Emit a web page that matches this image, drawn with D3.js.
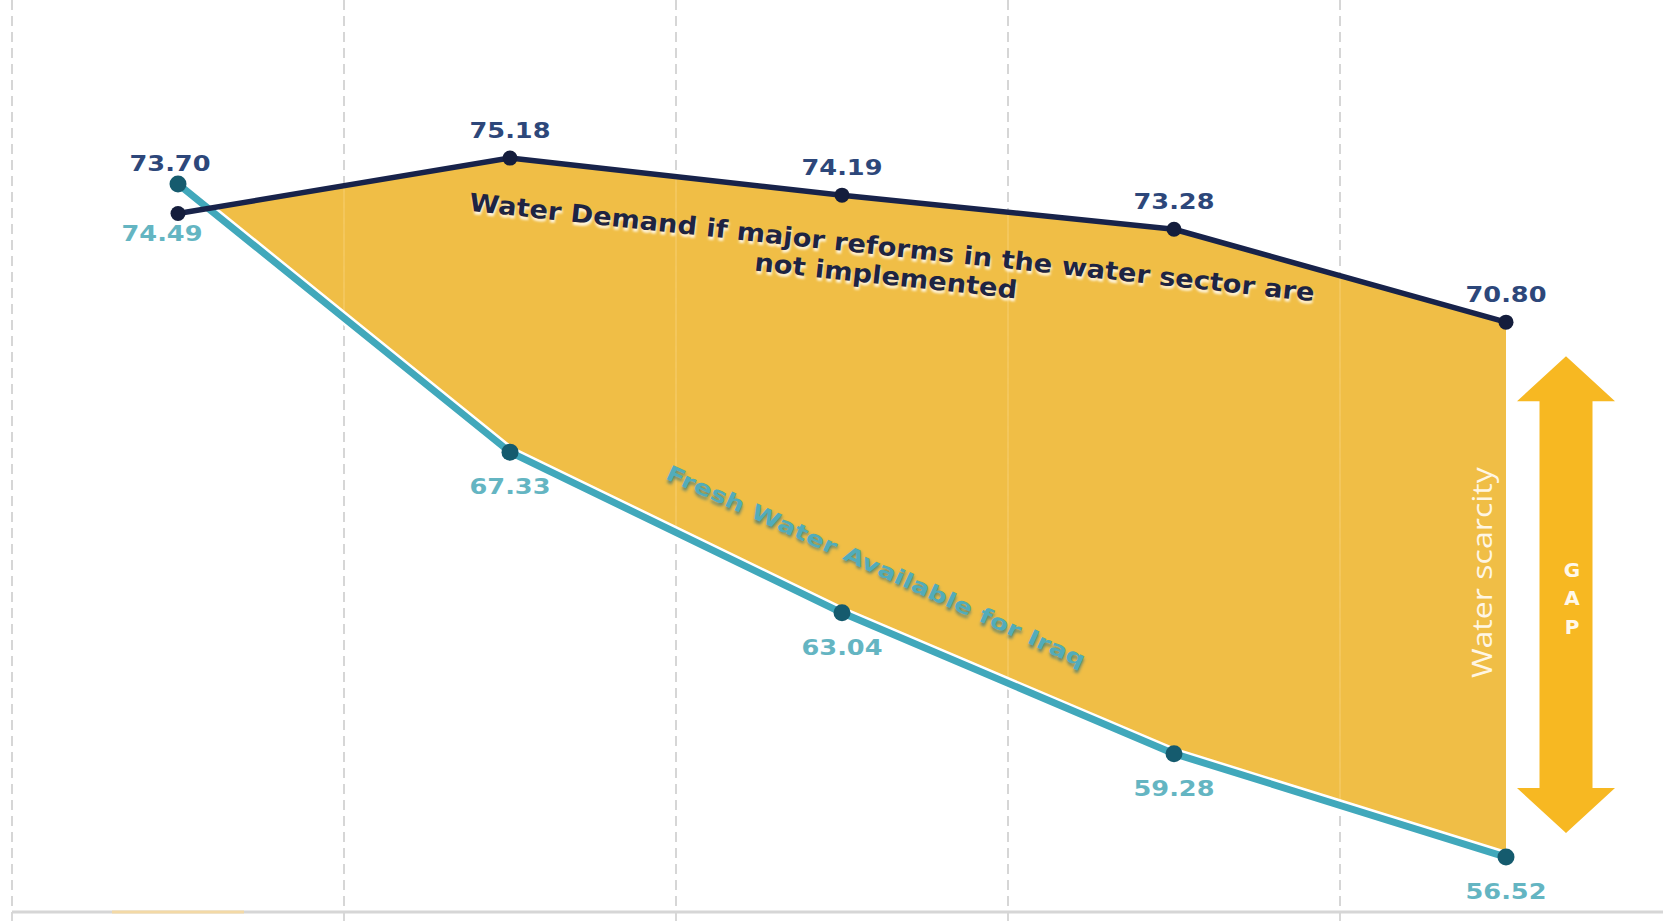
<!DOCTYPE html>
<html>
<head>
<meta charset="utf-8">
<script src="https://cdn.jsdelivr.net/npm/d3@7"></script>
<style>
  html, body { margin: 0; padding: 0; background: #ffffff; }
  svg { display: block; }
</style>
</head>
<body>
<svg id="chart" width="1663" height="921"></svg>
<script>
// ---- data ----
const categories = ["2015", "2020", "2025", "2030", "2035"];
const demand = [73.70, 75.18, 74.19, 73.28, 70.80];   // Water demand (no reforms)
const fresh  = [74.49, 67.33, 63.04, 59.28, 56.52];   // Fresh water available for Iraq
const demandText = ["Water Demand if major reforms in the water sector are", "not implemented"];
const freshText = "Fresh Water Available for Iraq";
const scarcityText = "Water scarcity";
const gapLetters = ["G", "A", "P"];

// ---- layout ----
const W = 1663, H = 921;
const svg = d3.select("#chart");
const x = d3.scaleBand().domain(categories).range([12, 1672]).paddingInner(0).paddingOuter(0);
const y = d3.scaleLinear().domain([55, 79.4]).range([914, 0]);
const cx = i => x(categories[i]) + x.bandwidth() / 2;
const baseY = 912;
const idx = d3.range(categories.length);

const gapArea = d3.area().x(i => cx(i)).y0(i => y(fresh[i])).y1(i => y(demand[i]));
const defs = svg.append("defs");
defs.append("clipPath").attr("id", "belowDemand")
  .append("path")
  .attr("d", d3.area().x(i => cx(i)).y0(H).y1(i => y(demand[i]))(idx));
defs.append("clipPath").attr("id", "gapClip")
  .append("path")
  .attr("d", gapArea(idx));
const blur1 = defs.append("filter").attr("id", "blur1").attr("x", "-10%").attr("y", "-50%").attr("width", "120%").attr("height", "200%");
blur1.append("feGaussianBlur").attr("stdDeviation", 1.2);
const blur2 = defs.append("filter").attr("id", "blur2").attr("x", "-10%").attr("y", "-50%").attr("width", "120%").attr("height", "200%");
blur2.append("feGaussianBlur").attr("stdDeviation", 1.6);

// ---- grid (band boundaries) ----
const grid = svg.append("g");
categories.forEach(c => {
  grid.append("line")
    .attr("x1", x(c)).attr("x2", x(c))
    .attr("y1", 0).attr("y2", baseY)
    .attr("stroke", "#c9c9c9").attr("stroke-width", 1.5)
    .attr("stroke-dasharray", "10,6");
  grid.append("line")
    .attr("x1", x(c)).attr("x2", x(c))
    .attr("y1", baseY).attr("y2", H)
    .attr("stroke", "#cfcfcf").attr("stroke-width", 1.6);
});

// baseline
svg.append("line")
  .attr("x1", x(categories[0])).attr("x2", W)
  .attr("y1", baseY).attr("y2", baseY)
  .attr("stroke", "#d6d6d6").attr("stroke-width", 3);
svg.append("line")
  .attr("x1", x(categories[0]) + 100).attr("x2", x(categories[0]) + 232)
  .attr("y1", baseY).attr("y2", baseY)
  .attr("stroke", "#f3d9a6").attr("stroke-width", 3);

// ---- gap fill ----
const fillOuter = svg.append("g").attr("clip-path", "url(#belowDemand)");
fillOuter.append("path")
  .attr("d", gapArea(idx))
  .attr("fill", "#f0bc40").attr("fill-opacity", 0.97);

// faint grid traces inside the fill
const fillInner = fillOuter.append("g").attr("clip-path", "url(#gapClip)");
categories.forEach((c, k) => {
  if (k === 0) return;
  fillInner.append("line")
    .attr("x1", x(c)).attr("x2", x(c))
    .attr("y1", 0).attr("y2", baseY)
    .attr("stroke", "#f6d27a").attr("stroke-width", 1.5).attr("stroke-opacity", 0.6);
});

// ---- lines ----
const line = vals => d3.line().x(i => cx(i)).y(i => y(vals[i]))(idx);
svg.append("path").attr("d", line(fresh)).attr("fill", "none")
  .attr("stroke", "#ffffff").attr("stroke-width", 12).attr("stroke-linejoin", "round");
svg.append("path").attr("d", line(fresh)).attr("fill", "none")
  .attr("stroke", "#41a8bb").attr("stroke-width", 7).attr("stroke-linejoin", "round");
svg.append("path").attr("d", line(demand)).attr("fill", "none")
  .attr("stroke", "#18234a").attr("stroke-width", 5.5).attr("stroke-linejoin", "round");

// markers
svg.append("g").selectAll("circle").data(idx).join("circle")
  .attr("cx", i => cx(i)).attr("cy", i => y(fresh[i])).attr("r", 8.5)
  .attr("fill", "#155b6e");
svg.append("g").selectAll("circle").data(idx).join("circle")
  .attr("cx", i => cx(i)).attr("cy", i => y(demand[i])).attr("r", 7.5)
  .attr("fill", "#141d3c");

// ---- value labels ----
const labelFont = "'DejaVu Sans', Verdana, sans-serif";
idx.forEach(i => {
  const yd = y(demand[i]), yf = y(fresh[i]);
  const crossed = yf < yd; // fresh above demand
  const dY = crossed ? yf - 13 : yd - 20;
  const fY = crossed ? yd + 27 : yf + 42;
  const dX = cx(i) + (crossed ? -8 : 0);
  const fX = cx(i) + (crossed ? -16 : 0);
  svg.append("text")
    .attr("x", dX).attr("y", dY)
    .attr("text-anchor", "middle")
    .attr("font-family", labelFont).attr("font-weight", "bold").attr("font-size", 22)
    .attr("textLength", 81).attr("lengthAdjust", "spacingAndGlyphs")
    .attr("fill", "#2d477a")
    .text(demand[i].toFixed(2));
  svg.append("text")
    .attr("x", fX).attr("y", fY)
    .attr("text-anchor", "middle")
    .attr("font-family", labelFont).attr("font-weight", "bold").attr("font-size", 22)
    .attr("textLength", 81).attr("lengthAdjust", "spacingAndGlyphs")
    .attr("fill", "#64b5c2")
    .text(fresh[i].toFixed(2));
});

// ---- demand annotation (rotated along demand line) ----
const angD = Math.atan2(y(demand[3]) - y(demand[1]), cx(3) - cx(1)) * 180 / Math.PI;
const mid13 = (cx(1) + cx(3)) / 2;
const dLine1 = { x: mid13 + 49, y: 256 };
const gD = svg.append("g").attr("transform", `translate(${dLine1.x},${dLine1.y}) rotate(${angD})`);
const dLines = [
  { t: demandText[0], dx: 0, dy: 0, len: 850 },
  { t: demandText[1], dx: -3, dy: 29, len: 264 }
];
dLines.forEach(l => {
  gD.append("text").attr("x", l.dx + 1).attr("y", l.dy + 3)
    .attr("text-anchor", "middle")
    .attr("font-family", labelFont).attr("font-weight", "bold").attr("font-size", 25)
    .attr("textLength", l.len).attr("lengthAdjust", "spacingAndGlyphs")
    .attr("fill", "#fff6e0").attr("filter", "url(#blur1)")
    .text(l.t);
  gD.append("text").attr("x", l.dx).attr("y", l.dy)
    .attr("text-anchor", "middle")
    .attr("font-family", labelFont).attr("font-weight", "bold").attr("font-size", 25)
    .attr("textLength", l.len).attr("lengthAdjust", "spacingAndGlyphs")
    .attr("fill", "#1e2442")
    .text(l.t);
});

// ---- fresh water annotation (rotated along fresh line) ----
const angF = Math.atan2(y(fresh[3]) - y(fresh[1]), cx(3) - cx(1)) * 180 / Math.PI;
const gF = svg.append("g").attr("transform", `translate(${mid13 + 31},${(y(fresh[1]) + y(fresh[3])) / 2 - 30}) rotate(${angF})`);
gF.append("text").attr("x", 1.5).attr("y", 2.5)
  .attr("text-anchor", "middle")
  .attr("font-family", labelFont).attr("font-weight", "bold").attr("font-size", 21)
  .attr("textLength", 458).attr("lengthAdjust", "spacingAndGlyphs")
  .attr("fill", "#2f6f7a").attr("fill-opacity", 0.7).attr("filter", "url(#blur2)")
  .text(freshText);
gF.append("text").attr("x", 0).attr("y", 0)
  .attr("text-anchor", "middle")
  .attr("font-family", labelFont).attr("font-weight", "bold").attr("font-size", 21)
  .attr("textLength", 458).attr("lengthAdjust", "spacingAndGlyphs")
  .attr("fill", "#52acba")
  .text(freshText);

// ---- water scarcity vertical text ----
const last = categories.length - 1;
const scY = (y(demand[last]) + y(fresh[last])) / 2;
svg.append("text")
  .attr("transform", `translate(${cx(last) - 14},${scY - 17}) rotate(-90)`)
  .attr("text-anchor", "middle")
  .attr("font-family", "'Open Sans', sans-serif").attr("font-size", 27)
  .attr("textLength", 211).attr("lengthAdjust", "spacingAndGlyphs")
  .attr("fill", "#fff6e4")
  .text(scarcityText);

// ---- GAP double arrow ----
const ax = cx(last) + 60;
const aTop = y(demand[last]) + 34;
const aBot = y(fresh[last]) - 24;
const shaftHW = 26.5, headHW = 49, headL = 45;
const arrowPts = [
  [ax, aTop], [ax + headHW, aTop + headL], [ax + shaftHW, aTop + headL],
  [ax + shaftHW, aBot - headL], [ax + headHW, aBot - headL], [ax, aBot],
  [ax - headHW, aBot - headL], [ax - shaftHW, aBot - headL],
  [ax - shaftHW, aTop + headL], [ax - headHW, aTop + headL]
];
svg.append("path")
  .attr("d", d3.line()(arrowPts) + "Z")
  .attr("fill", "#f7b822");
const aMid = (aTop + aBot) / 2;
gapLetters.forEach((L, k) => {
  svg.append("text")
    .attr("x", ax + 6).attr("y", aMid - 18 + k * 28.5)
    .attr("text-anchor", "middle")
    .attr("font-family", labelFont).attr("font-weight", "bold").attr("font-size", 20)
    .attr("fill", "#fff8ea")
    .text(L);
});
</script>
</body>
</html>
